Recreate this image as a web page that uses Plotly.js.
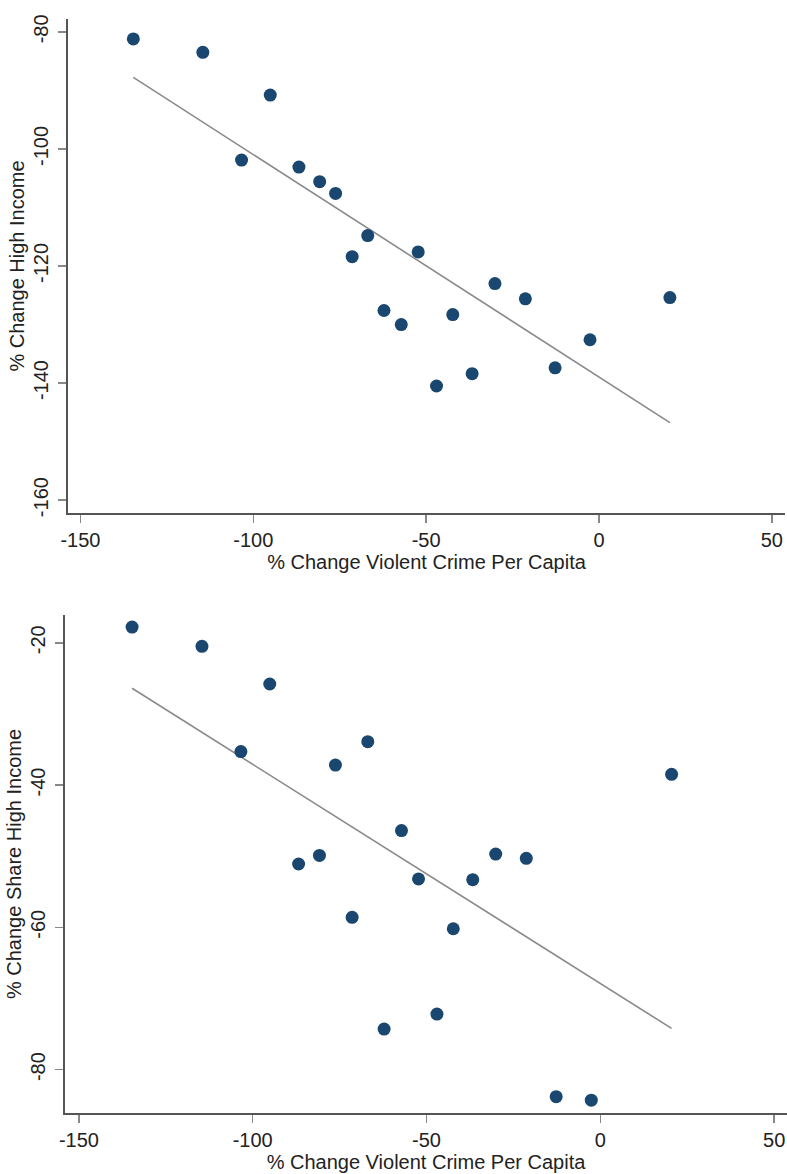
<!DOCTYPE html>
<html>
<head>
<meta charset="utf-8">
<script src="https://cdn.plot.ly/plotly-3.0.1.min.js"></script>
<style>html,body{margin:0;padding:0;background:#fff;}#chart{width:787px;height:1174px;}</style>
</head>
<body>
<div id="chart"></div>
<script>
// Shared x values: % change in violent crime per capita (one per city)
const crimeChange = [-134.7, -114.6, -95.1, -103.4, -86.8, -80.8, -76.2, -66.9, -71.4, -52.3,
                     -62.2, -57.2, -42.3, -47.0, -36.7, -30.1, -21.3, -2.6, -12.7, 20.5];
// Top panel: % change high income
const highIncomeChange = [-81.2, -83.5, -90.8, -101.9, -103.1, -105.6, -107.6, -114.8, -118.4, -117.6,
                          -127.6, -130.0, -128.3, -140.5, -138.4, -123.0, -125.6, -132.6, -137.4, -125.4];
// Bottom panel: % change share high income
const shareHighIncomeChange = [-17.8, -20.5, -25.8, -35.3, -51.1, -49.9, -37.2, -33.9, -58.6, -53.2,
                               -74.3, -46.4, -60.2, -72.2, -53.3, -49.7, -50.3, -84.3, -83.8, -38.5];

const xTicks = [-150, -100, -50, 0, 50];
const yTicksTop = [-160, -140, -120, -100, -80];
const yTicksBottom = [-80, -60, -40, -20];

function olsLine(xs, ys) {
  const n = xs.length;
  const mx = xs.reduce((a, b) => a + b, 0) / n;
  const my = ys.reduce((a, b) => a + b, 0) / n;
  let sxy = 0, sxx = 0;
  for (let i = 0; i < n; i++) { sxy += (xs[i] - mx) * (ys[i] - my); sxx += (xs[i] - mx) ** 2; }
  const b = sxy / sxx, a = my - b * mx;
  const x0 = Math.min(...xs), x1 = Math.max(...xs);
  return { x: [x0, x1], y: [a + b * x0, a + b * x1] };
}

const fitTop = olsLine(crimeChange, highIncomeChange);
const fitBot = olsLine(crimeChange, shareHighIncomeChange);

const dotColor = '#1a476f';
const lineColor = '#8a8a8a';
const FONT = 'Liberation Sans, Arial, sans-serif';

const traces = [
  { x: fitTop.x, y: fitTop.y, type: 'scatter', mode: 'lines', xaxis: 'x', yaxis: 'y',
    line: { color: lineColor, width: 1.6 }, hoverinfo: 'skip', showlegend: false },
  { x: crimeChange, y: highIncomeChange, type: 'scatter', mode: 'markers', xaxis: 'x', yaxis: 'y',
    marker: { color: dotColor, size: 13 }, showlegend: false },
  { x: fitBot.x, y: fitBot.y, type: 'scatter', mode: 'lines', xaxis: 'x2', yaxis: 'y2',
    line: { color: lineColor, width: 1.6 }, hoverinfo: 'skip', showlegend: false },
  { x: crimeChange, y: shareHighIncomeChange, type: 'scatter', mode: 'markers', xaxis: 'x2', yaxis: 'y2',
    marker: { color: dotColor, size: 13 }, showlegend: false }
];

const W = 787, H = 1174;
const titleFont = { family: FONT, size: 20, color: '#222222' };
const axisCommon = {
  showline: true, linecolor: '#555555', linewidth: 2, mirror: false,
  showgrid: false, zeroline: false,
  ticks: 'outside', ticklen: 8, tickwidth: 1.5, tickcolor: '#888888',
  tickfont: { family: FONT, size: 20, color: '#222222' },
  fixedrange: true
};

const layout = {
  width: W, height: H, autosize: false,
  margin: { l: 0, r: 0, t: 0, b: 0, pad: 0 },
  paper_bgcolor: '#ffffff', plot_bgcolor: '#ffffff',
  font: { family: FONT, color: '#222222' },
  showlegend: false,
  xaxis: Object.assign({}, axisCommon, {
    domain: [68 / W, 785 / W], anchor: 'y',
    range: [-153.6, 53.8], tickmode: 'array', tickvals: xTicks, ticktext: xTicks.map(String),
    ticklabelstandoff: 0,
    title: { text: '% Change Violent Crime Per Capita', font: titleFont, standoff: 0 }
  }),
  yaxis: Object.assign({}, axisCommon, {
    domain: [1 - 513 / H, 1 - 19 / H], anchor: 'x',
    range: [-162.2, -77.8], tickmode: 'array', tickvals: yTicksTop, ticktext: yTicksTop.map(String),
    tickangle: -90, ticklabelstandoff: 2,
    title: { text: '% Change High Income', font: titleFont, standoff: 0 }
  }),
  xaxis2: Object.assign({}, axisCommon, {
    domain: [65 / W, 1], anchor: 'y2',
    range: [-154.0, 53.7], tickmode: 'array', tickvals: xTicks, ticktext: xTicks.map(String),
    ticklabelstandoff: 0,
    title: { text: '% Change Violent Crime Per Capita', font: titleFont, standoff: 0 }
  }),
  yaxis2: Object.assign({}, axisCommon, {
    domain: [1 - 1113 / H, 1 - 615 / H], anchor: 'x2',
    range: [-86.1, -16.1], tickmode: 'array', tickvals: yTicksBottom, ticktext: yTicksBottom.map(String),
    tickangle: -90, ticklabelstandoff: 2,
    title: { text: '% Change Share High Income', font: titleFont, standoff: 0 }
  })
};

Plotly.newPlot('chart', traces, layout, { staticPlot: true, displayModeBar: false });
</script>
</body>
</html>
